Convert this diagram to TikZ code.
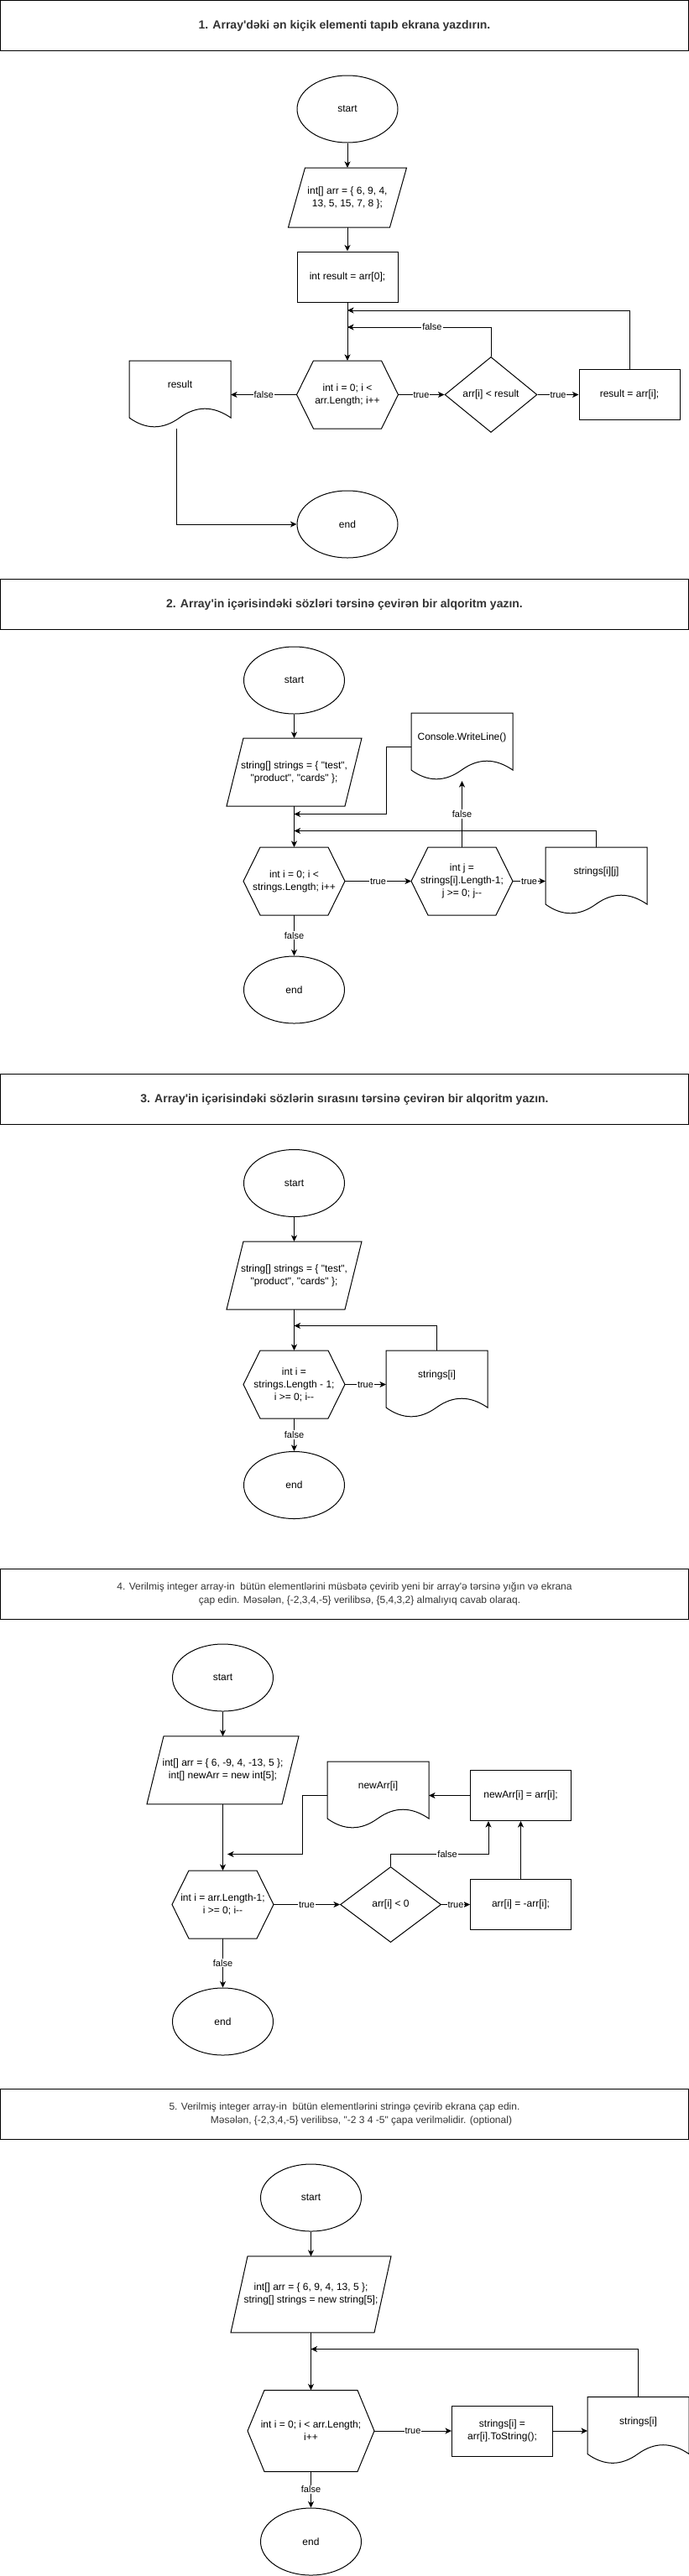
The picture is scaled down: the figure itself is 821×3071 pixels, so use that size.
\documentclass[tikz,border=0pt]{standalone}
\usepackage{fontspec}
\setmainfont{Liberation Sans}[Ligatures=TeXOff]
\usetikzlibrary{shapes.geometric,arrows.meta,calc}
\definecolor{ttl}{HTML}{333333}
\newcommand\hexo[1]{\draw ([xshift=20pt]#1.north west) -- ([xshift=-20pt]#1.north east) -- (#1.east) -- ([xshift=-20pt]#1.south east) -- ([xshift=20pt]#1.south west) -- (#1.west) -- cycle;}
\newcommand\parao[1]{\draw ([xshift=20pt]#1.north west) -- (#1.north east) -- ([xshift=-20pt]#1.south east) -- (#1.south west) -- cycle;}
\newcommand\doco[1]{\draw (#1.north west) -- (#1.north east) -- ([shift={(0,68)}]#1.north east) .. controls ([shift={(100,53.6)}]#1.north west) and ([shift={(80,53.6)}]#1.north west) .. ([shift={(60,68)}]#1.north west) .. controls ([shift={(40,82.4)}]#1.north west) and ([shift={(20,82.4)}]#1.north west) .. ([shift={(0,68)}]#1.north west) -- cycle;}
\begin{document}
\begin{tikzpicture}[x=1pt,y=-1pt,line width=1pt,
  every node/.style={font=\fontsize{12pt}{15pt}\selectfont, inner sep=0pt, align=center},
  term/.style={ellipse, draw, minimum width=120pt, minimum height=80pt},
  proc/.style={rectangle, draw, minimum width=120pt, minimum height=60pt},
  cond/.style={diamond, draw, minimum width=110pt, minimum height=90pt, aspect=1.2},
  hexbox/.style={rectangle, minimum width=120pt, minimum height=80pt},
  parbox/.style={rectangle, minimum width=160pt, minimum height=80pt},
  docu/.style={rectangle, minimum width=120pt, minimum height=80pt, text height=9pt, text depth=25pt},
  title/.style={rectangle, draw, minimum width=820pt, minimum height=60pt, text=ttl},
  btitle/.style={title, font=\bfseries\fontsize{14pt}{17pt}\selectfont},
  ntitle/.style={title, font=\fontsize{12pt}{16pt}\selectfont},
  lbl/.style={fill=white, font=\fontsize{11pt}{13pt}\selectfont, inner sep=1pt},
  arr/.style={-{Stealth[length=7.5pt,width=7pt,inset=2pt]}}
]
\useasboundingbox (0,0) rectangle (821,3071);

% ---------------- Section 1 ----------------
\node[btitle] (t1) at (410.5,30.5) {1. Array'dəki ən kiçik elementi tapıb ekrana yazdırın.};
\node[term] (s1) at (414,130) {start};
\node[parbox, minimum width=140pt, minimum height=70pt] (p1) at (414,235.5) {int[] arr = \{ 6, 9, 4,\\ 13, 5, 15, 7, 8 \};};
\parao{p1}
\node[proc] (r1) at (414,330) {int result = arr[0];};
\node[hexbox] (h1) at (414,470.5) {int i = 0; i <\\arr.Length; i++};
\hexo{h1}
\node[cond] (c1) at (585,470.5) {arr[i] < result};
\node[proc] (a1) at (750,470.5) {result = arr[i];};
\node[docu] (d1) at (214.5,470.5) {result};
\doco{d1}
\node[term] (e1) at (414,625) {end};
\coordinate (m1a) at (414,370);
\coordinate (m1b) at (414,390);
\draw[arr] (s1) -- (p1);
\draw[arr] (p1) -- (r1);
\draw[arr] (r1) -- (h1);
\draw[arr] (a1.north) |- (m1a);
\draw[arr] (c1.north) -- (c1.north |- m1b) -- node[lbl,pos=0.41]{false} (m1b);
\draw[arr] (h1) -- node[lbl]{true} (c1);
\draw[arr] (c1) -- node[lbl]{true} (a1);
\draw[arr] (h1) -- node[lbl]{false} (d1);
\draw[arr] ([xshift=-4pt]d1.south) |- (e1.west);

% ---------------- Section 2 ----------------
\node[btitle] (t2) at (410.5,720.5) {2. Array'in içərisindəki sözləri tərsinə çevirən bir alqoritm yazın.};
\node[term] (s2) at (350.5,811) {start};
\node[parbox] (p2) at (350.5,920.5) {string[] strings = \{ "test",\\"product", "cards" \};};
\parao{p2}
\node[hexbox] (h2a) at (350.5,1050.5) {int i = 0; i <\\strings.Length; i++};
\hexo{h2a}
\node[hexbox] (h2b) at (550.5,1050.5) {int j =\\strings[i].Length-1;\\j >= 0; j--};
\hexo{h2b}
\node[docu] (d2a) at (710.5,1050.5) {strings[i][j]};
\doco{d2a}
\node[docu] (d2b) at (550.5,890.5) {Console.WriteLine()};
\doco{d2b}
\node[term] (e2) at (350.5,1180) {end};
\coordinate (k2) at (460.5,970.5);
\coordinate (m2a) at (350.5,970.5);
\coordinate (m2b) at (350.5,990.5);
\draw[arr] (s2) -- (p2);
\draw[arr] (p2) -- (h2a);
\draw[arr] (h2a) -- node[lbl]{true} (h2b);
\draw[arr] (h2b) -- node[lbl]{true} (d2a);
\draw[arr] (h2b) -- node[lbl]{false} (d2b);
\draw[arr] (d2b.west) -| (k2) -- (m2a);
\draw[arr] (d2a.north) |- (m2b);
\draw[arr] (h2a) -- node[lbl]{false} (e2);

% ---------------- Section 3 ----------------
\node[btitle] (t3) at (410.5,1310.5) {3. Array'in içərisindəki sözlərin sırasını tərsinə çevirən bir alqoritm yazın.};
\node[term] (s3) at (350.5,1410.5) {start};
\node[parbox] (p3) at (350.5,1520.5) {string[] strings = \{ "test",\\"product", "cards" \};};
\parao{p3}
\node[hexbox] (h3) at (350.5,1650.5) {int i =\\strings.Length - 1;\\i >= 0; i--};
\hexo{h3}
\node[docu] (d3) at (520.5,1650.5) {strings[i]};
\doco{d3}
\node[term] (e3) at (350.5,1770.5) {end};
\coordinate (m3) at (350.5,1580.5);
\draw[arr] (s3) -- (p3);
\draw[arr] (p3) -- (h3);
\draw[arr] (h3) -- node[lbl]{true} (d3);
\draw[arr] (d3.north) |- (m3);
\draw[arr] (h3) -- node[lbl]{false} (e3);

% ---------------- Section 4 ----------------
\node[ntitle] (t4) at (410.5,1900.2) {4. Verilmiş integer array-in~ bütün elementlərini müsbətə çevirib yeni bir array'ə tərsinə yığın və ekrana\\\hspace*{36pt}çap edin. Məsələn, \{-2,3,4,-5\} verilibsə, \{5,4,3,2\} almalıyıq cavab olaraq.};
\node[term] (s4) at (265.5,2000) {start};
\node[parbox, minimum width=180pt] (p4) at (265.5,2110.3) {int[] arr = \{ 6, -9, 4, -13, 5 \};\\int[] newArr = new int[5];};
\parao{p4}
\node[hexbox] (h4) at (265.5,2270.5) {int i = arr.Length-1;\\i >= 0; i--};
\hexo{h4}
\node[cond, minimum width=120pt] (c4) at (465.5,2270.5) {arr[i] < 0};
\node[proc] (r4a) at (620.5,2270.5) {arr[i] = -arr[i];};
\node[proc] (r4b) at (620.5,2140.5) {newArr[i] = arr[i];};
\node[docu] (d4) at (450.5,2140.5) {newArr[i]};
\doco{d4}
\node[term] (e4) at (265.5,2410) {end};
\coordinate (k4) at (582,2210.5);
\coordinate (k4b) at (360,2210.5);
\coordinate (m4) at (271,2210.5);
\draw[arr] (s4) -- (p4);
\draw[arr] (p4) -- (h4);
\draw[arr] (h4) -- node[lbl]{true} (c4);
\draw[arr] (c4) -- node[lbl]{true} (r4a);
\draw[arr] (r4a) -- (r4b);
\draw[arr] (c4.north) |- node[lbl,pos=0.79]{false} (k4) -- (k4 |- r4b.south);
\draw[arr] (r4b) -- (d4);
\draw[arr] (d4.west) -| (k4b) -- (m4);
\draw[arr] (h4) -- node[lbl]{false} (e4);

% ---------------- Section 5 ----------------
\node[ntitle] (t5) at (410.5,2520.3) {5. Verilmiş integer array-in~ bütün elementlərini stringə çevirib ekrana çap edin.\\\hspace*{40pt}Məsələn, \{-2,3,4,-5\} verilibsə, "-2 3 4 -5" çapa verilməlidir. (optional)};
\node[term] (s5) at (370.5,2620) {start};
\node[parbox, minimum width=190pt, minimum height=90pt] (p5) at (370.5,2735.3) {int[] arr = \{ 6, 9, 4, 13, 5 \};\\string[] strings = new string[5];};
\parao{p5}
\node[hexbox, minimum width=150pt, minimum height=96pt] (h5) at (370.5,2898) {int i = 0; i < arr.Length;\\i++};
\hexo{h5}
\node[proc] (r5) at (598.5,2898) {strings[i] =\\arr[i].ToString();};
\node[docu] (d5) at (760.5,2898) {strings[i]};
\doco{d5}
\node[term] (e5) at (370.5,3030) {end};
\coordinate (m5) at (370.5,2800.5);
\draw[arr] (s5) -- (p5);
\draw[arr] (p5) -- (h5);
\draw[arr] (h5) -- node[lbl]{true} (r5);
\draw[arr] (r5) -- (d5);
\draw[arr] (d5.north) |- (m5);
\draw[arr] (h5) -- node[lbl]{false} (e5);
\end{tikzpicture}
\end{document}
